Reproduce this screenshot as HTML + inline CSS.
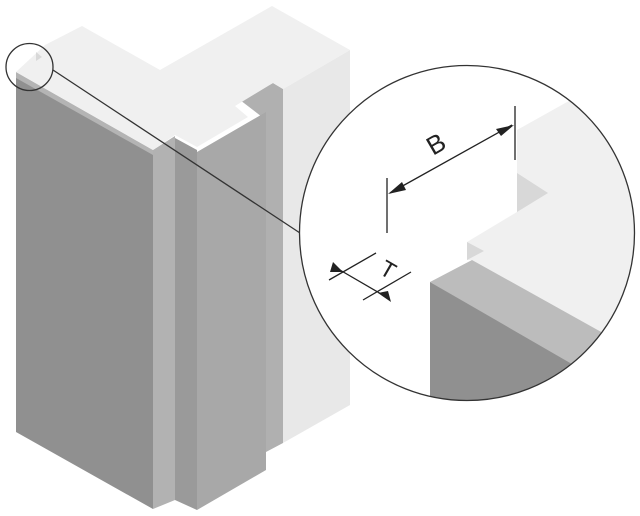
<!DOCTYPE html>
<html><head><meta charset="utf-8"><style>html,body{margin:0;padding:0;background:#fff}svg{display:block}</style></head>
<body>
<svg width="640" height="516" viewBox="0 0 640 516" xmlns="http://www.w3.org/2000/svg">
<defs>
<clipPath id="cc"><circle cx="467" cy="233" r="167.5"/></clipPath>
</defs>
<!-- right face -->
<polygon points="350,50 350,405 283,443 283,89" fill="#e8e8e8"/>
<!-- right strip -->
<polygon points="240,100 273,83 283,89 283,443 266,452 266,120" fill="#b0b0b0"/>
<!-- panel -->
<polygon points="197,152 266,112 266,470 197,510" fill="#a8a8a8"/>
<!-- dark strip -->
<polygon points="175,138 197,150 197,510 175,500" fill="#9a9a9a"/>
<!-- light strip -->
<polygon points="153,150 175,136 175,500 153,509" fill="#b2b2b2"/>
<!-- top light edge strip -->
<polygon points="16,72 153,150 153,156 16,80" fill="#b4b4b4"/>
<!-- dark face -->
<polygon points="16,78 153,155 153,509 16,432" fill="#909090"/>
<!-- top face -->
<polygon points="45,45 82,26 160,70 272,6 350,50 283,89 273,83 235,106 248,117 197,147 175,135 153,150 16,72" fill="#f0f0f0"/>
<!-- small notch triangle -->
<polygon points="36,52 42,57 36,61" fill="#d8d8d8"/>
<!-- small circle and leader -->
<circle cx="29.5" cy="67" r="23.5" fill="none" stroke="#333" stroke-width="1.3"/>
<line x1="53" y1="70" x2="300" y2="233" stroke="#333" stroke-width="1.3"/>
<!-- big circle -->
<circle cx="467" cy="233" r="167.5" fill="#fff"/>
<g clip-path="url(#cc)">
<polygon points="517,173 517,130 660,50 660,430 600,332 472,260 467,260 467,242 517,212" fill="#f0f0f0"/>
<polygon points="517,173 548,193 517,212" fill="#d8d8d8"/>
<polygon points="467,242 484,251 467,260" fill="#d8d8d8"/>
<polygon points="430,282 472,260 700,387 700,440" fill="#bcbcbc"/>
<polygon points="430,282 700,438 700,460 430,460" fill="#909090"/>
</g>
<circle cx="467" cy="233" r="167.5" fill="none" stroke="#333" stroke-width="1.3"/>
<!-- dimensions -->
<g stroke="#222" stroke-width="1.3" fill="none">
<line x1="387" y1="178" x2="387" y2="233"/>
<line x1="515" y1="106" x2="515" y2="160"/>
<line x1="390" y1="193" x2="512" y2="125"/>
<line x1="329" y1="280" x2="376" y2="253"/>
<line x1="363" y1="300" x2="411" y2="272"/>
<line x1="333" y1="266" x2="388" y2="298"/>
</g>
<polygon points="388,194 402,182 406,190" fill="#222"/>
<polygon points="514,125 496,129 501,136" fill="#222"/>
<polygon points="343,272 333,262 330,272" fill="#222"/>
<polygon points="378,293 391,302 388,291" fill="#222"/>
<text x="0" y="0" transform="translate(433,156) rotate(-30)" font-family="Liberation Sans, sans-serif" font-size="26" fill="#222">B</text>
<text x="0" y="0" transform="translate(378,273) rotate(30)" font-family="Liberation Sans, sans-serif" font-size="23" fill="#222">T</text>
</svg>
</body></html>
